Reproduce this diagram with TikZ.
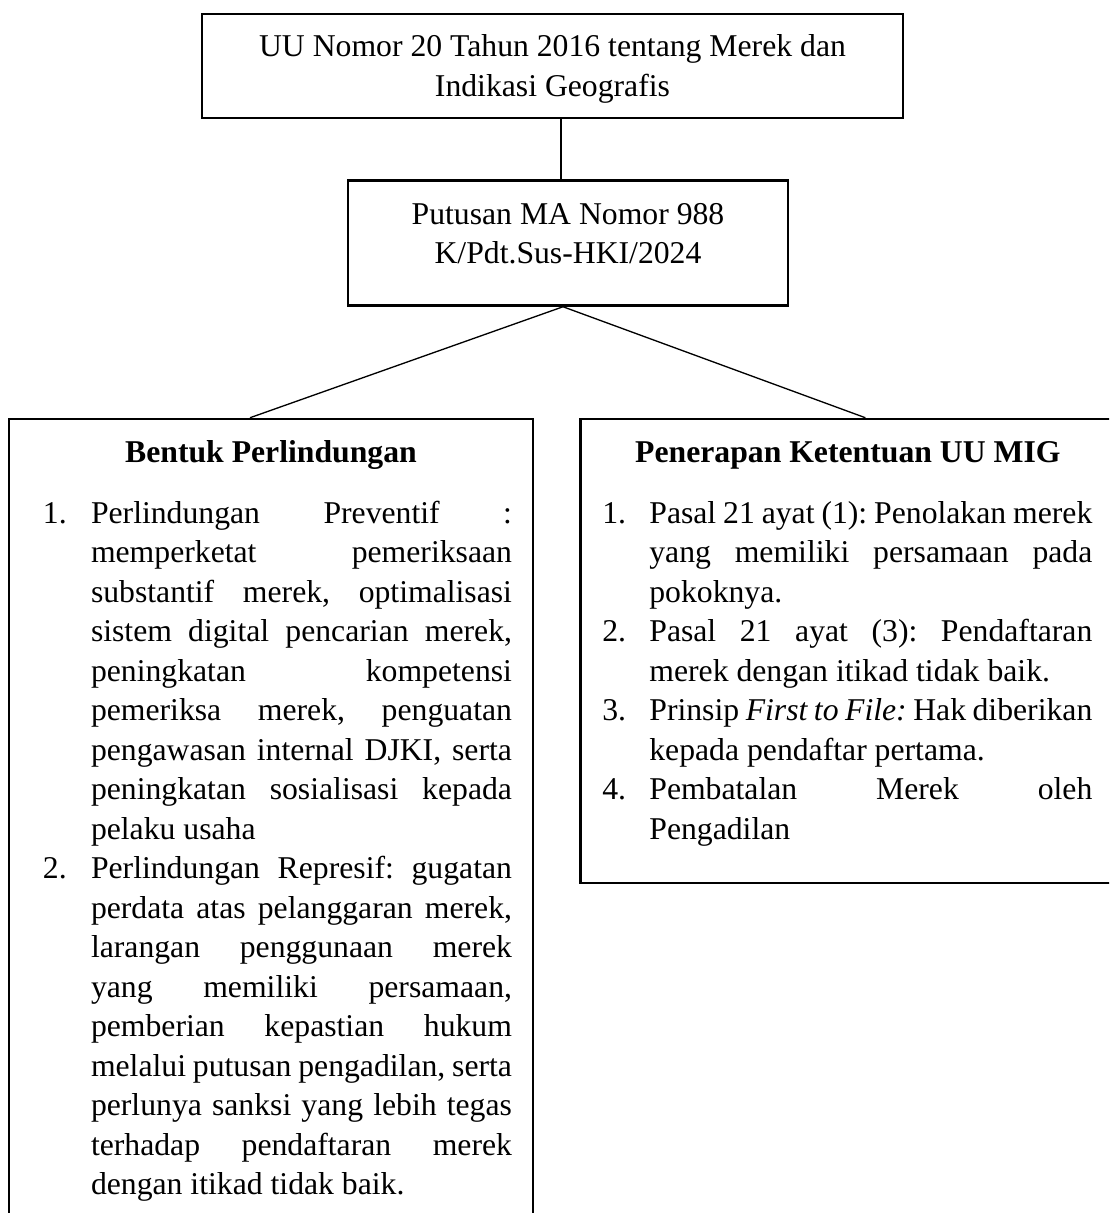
\documentclass[tikz,border=0pt]{standalone}
\usepackage{fontspec}
\setmainfont{Liberation Serif}
\usepackage{enumitem}
\usepackage{tikz}
\usetikzlibrary{positioning}

\setlength{\parindent}{0pt}
\tolerance=10000
\hbadness=10000
\frenchspacing
\setlist[enumerate]{label=\arabic*., labelsep=0pt, labelwidth=!, align=left, topsep=7.85pt, partopsep=0pt, itemsep=0pt, parsep=0pt}

\newcommand{\atasan}[1]{\vrule width 0pt height #1\relax}
\newcommand{\bawahan}[1]{\vrule width 0pt depth #1\relax}

\begin{document}
\begin{tikzpicture}[
			box/.style={draw, rectangle, line width=0.9pt, inner sep=0pt, font=\fontsize{12pt}{14.95pt}\selectfont},
			titlebox/.style={box, align=center},
			listbox/.style={box, align=justify, anchor=north},
			link/.style={line width=0.5pt}
			]
			
			\useasboundingbox (0,0) rectangle (419.76pt,-459.12pt);
			\clip (0,0) rectangle (419.76pt,-459.12pt);
			
			%==================== undang-undang ====================
			\node[titlebox, minimum width=265.33pt, anchor=north] (uu) at (209.12pt,-4.92pt)
			{\atasan{16.1pt}UU Nomor 20 Tahun 2016 tentang Merek dan\\Indikasi Geografis\bawahan{8.31pt}};
			
			\node[titlebox, minimum width=166.54pt, below=22.72pt of uu, xshift=5.87pt] (putusan)
			{\atasan{16.5pt}Putusan MA Nomor 988\\K/Pdt.Sus-HKI/2024\bawahan{15.86pt}};
			
			%==================== bentuk perlindungan ====================
			\node[listbox, text width=198.33pt, below=42.01pt of putusan, xshift=-112.42pt] (bentuk)
			{{\centering\bfseries\atasan{16.6pt}Bentuk Perlindungan\par}
				\begin{enumerate}[labelindent=12.87pt, leftmargin=31.04pt, rightmargin=7.95pt]
					\item Perlindungan Preventif :\linebreak
					memperketat pemeriksaan\linebreak
					substantif merek, optimalisasi\linebreak
					sistem digital pencarian merek,\linebreak
					peningkatan kompetensi\linebreak
					pemeriksa merek, penguatan\linebreak
					pengawasan internal DJKI, serta\linebreak
					peningkatan sosialisasi kepada\linebreak
					pelaku usaha
					\item Perlindungan Represif: gugatan\linebreak
					perdata atas pelanggaran merek,\linebreak
					larangan penggunaan merek\linebreak
					yang memiliki persamaan,\linebreak
					pemberian kepastian hukum\linebreak
					melalui putusan pengadilan, serta\linebreak
					perlunya sanksi yang lebih tegas\linebreak
					terhadap pendaftaran merek\linebreak
					dengan itikad tidak baik.\bawahan{30pt}
				\end{enumerate}};
			
			%==================== penerapan ketentuan ====================
			\node[listbox, text width=202.5pt, anchor=north west] (penerapan) at ([xshift=17.03pt]bentuk.north east)
			{{\centering\bfseries\atasan{16.6pt}Penerapan Ketentuan UU MIG\par}
				\begin{enumerate}[labelindent=8.33pt, leftmargin=26.12pt, rightmargin=8.71pt]
					\item Pasal 21 ayat (1): Penolakan merek\linebreak
					yang memiliki persamaan pada\linebreak
					pokoknya.
					\item Pasal 21 ayat (3): Pendaftaran\linebreak
					merek dengan itikad tidak baik.
					\item Prinsip \textit{First to File:} Hak diberikan\linebreak
					kepada pendaftar pertama.
					\item Pembatalan Merek oleh\linebreak
					Pengadilan\bawahan{16.6pt}
				\end{enumerate}};
			
			\coordinate (atas) at ([xshift=-2.65pt]putusan.north);
			\coordinate (cabang) at ([xshift=-1.89pt]putusan.south);
			
			\draw[link] (atas) -- (atas |- uu.south);
			\draw[link] (cabang) -- ([xshift=-7.95pt]bentuk.north);
			\draw[link] (cabang) -- ([xshift=6.63pt]penerapan.north);
			
		\end{tikzpicture}
\end{document}
